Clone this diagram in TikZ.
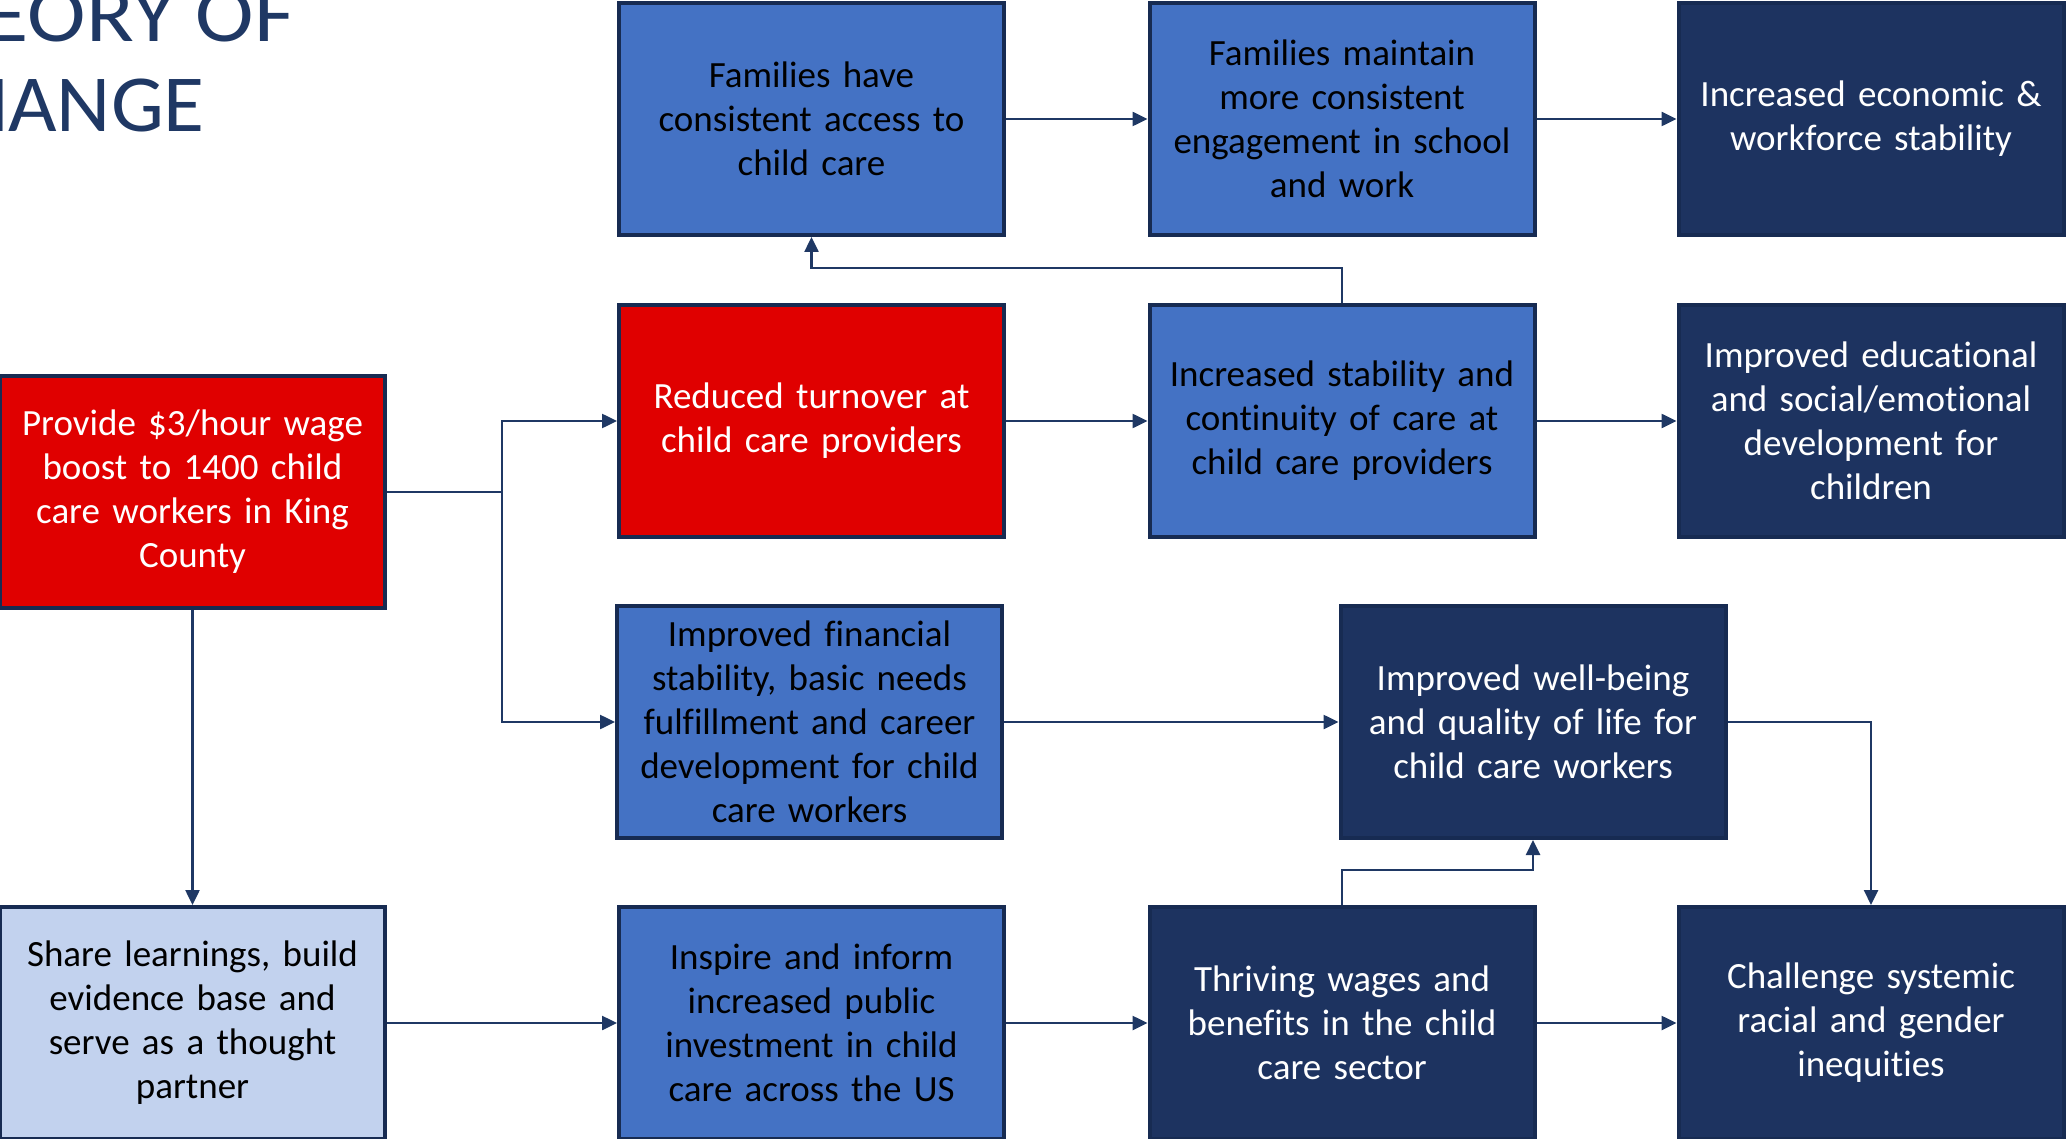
\documentclass[tikz,border=0pt]{standalone}
\usepackage{fontspec}
\setmainfont{Carlito}[Ligatures=NoCommon]
\usetikzlibrary{arrows.meta}
\definecolor{medblue}{HTML}{4472C4}
\definecolor{navyfill}{HTML}{1D3360}
\definecolor{bordernavy}{HTML}{172B52}
\definecolor{linenavy}{HTML}{1F3864}
\definecolor{redfill}{HTML}{E00000}
\definecolor{lightfill}{HTML}{C2D2EE}
\begin{document}
\begin{tikzpicture}[x=1pt,y=-1pt,
  box/.style={draw=bordernavy, line width=4pt, minimum width=385pt, minimum height=232pt,
    text width=375pt, align=center, inner sep=0pt,
    font=\fontsize{37}{44}\selectfont},
  bluebox/.style={box, fill=medblue, text=black},
  navybox/.style={box, fill=navyfill, text=white},
  redbox/.style={box, fill=redfill, text=white},
  lightbox/.style={box, fill=lightfill, text=black},
  conn/.style={draw=linenavy, line width=2.5pt, -{Triangle[length=15pt,width=14pt]}},
  plainconn/.style={draw=linenavy, line width=2.5pt},
  titletext/.style={anchor=base east, inner sep=0pt, text=linenavy, font=\fontsize{81}{90}\selectfont}]
\useasboundingbox (0,0) rectangle (2066,1139);
\clip (0,0) rectangle (2066,1139);

% title (cut off at the left edge, as in the reference)
\node[titletext] (t1) at (295,42) {\scalebox{1.09}[1]{THEORY OF}};
\node[titletext] (t2) at (205,132) {\scalebox{1.035}[1]{CHANGE}};

% row 1
\node[bluebox] (b1) at (811.5,119) {Families have\\consistent access to\\child care};
\node[bluebox] (b2) at (1342,119) {Families maintain\\more consistent\\engagement in school\\and work};
\node[navybox] (b3) at (1871,119) {Increased economic \&\\workforce stability};

% row 2
\node[redbox] (r2a) at (811.5,421) {Reduced turnover at\\child care providers};
\node[bluebox] (r2b) at (1342,421) {Increased stability and\\continuity of care at\\child care providers};
\node[navybox] (r2c) at (1871,421) {Improved educational\\and social/emotional\\development for\\children};

% left red
\node[redbox] (lr) at (192.5,492) {Provide \$3/hour wage\\boost to 1400 child\\care workers in King\\County};

% row 3
\node[bluebox] (fin) at (809.5,722) {Improved financial\\stability, basic needs\\fulfillment and career\\development for child\\care workers};
\node[navybox] (wb) at (1533,722) {Improved well-being\\and quality of life for\\child care workers};

% row 4
\node[lightbox] (sh) at (192.5,1023) {Share learnings, build\\evidence base and\\serve as a thought\\partner};
\node[bluebox] (insp) at (811.5,1023) {Inspire and inform\\increased public\\investment in child\\care across the US};
\node[navybox] (thr) at (1342,1023) {Thriving wages and\\benefits in the child\\care sector};
\node[navybox] (ch) at (1871,1023) {Challenge systemic\\racial and gender\\inequities};

% connectors
\draw[conn] (b1.east) -- (b2.west);
\draw[conn] (b2.east) -- (b3.west);
\draw[conn] (r2a.east) -- (r2b.west);
\draw[conn] (r2b.east) -- (r2c.west);
\draw[conn] (r2b.north) -- ++(0,-35) -| (b1.south);

\coordinate (split) at (502,492);
\draw[plainconn] (lr.east) -- (split);
\draw[conn] (split) |- (r2a.west);
\draw[conn] (split) |- (fin.west);
\draw[conn] (lr.south) -- (sh.north);

\draw[conn] (fin.east) -- (wb.west);
\draw[conn] (wb.east) -| (ch.north);

\draw[conn] (sh.east) -- (insp.west);
\draw[conn] (insp.east) -- (thr.west);
\draw[conn] (thr.east) -- (ch.west);
\draw[conn] (thr.north) -- ++(0,-35) -| (wb.south);
\end{tikzpicture}
\end{document}
